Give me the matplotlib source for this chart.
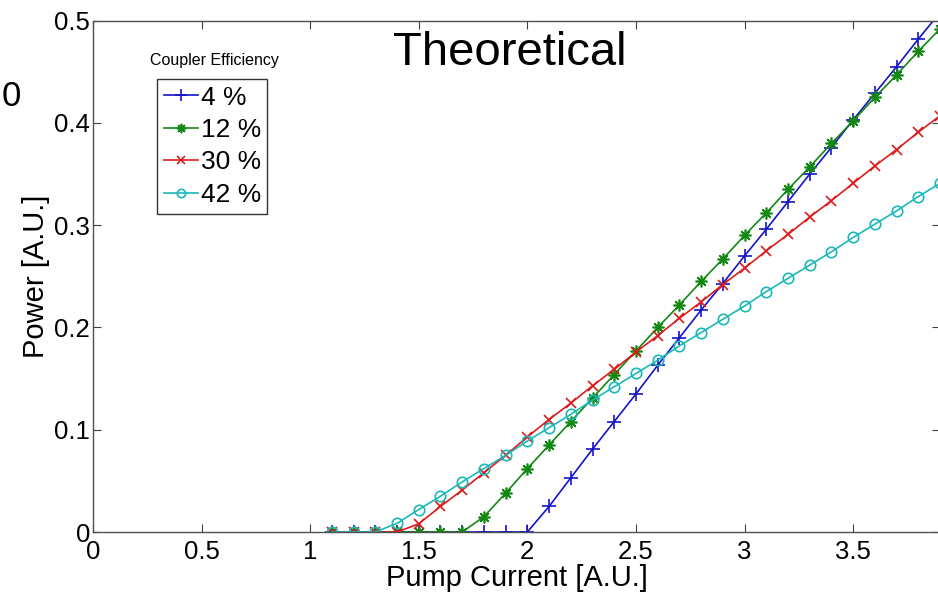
import matplotlib
matplotlib.use("Agg")
import matplotlib.pyplot as plt

plt.rcParams['font.family'] = ['Liberation Sans', 'DejaVu Sans']

# Pump current grid (A.U.)
current = [1.1, 1.2, 1.3, 1.4, 1.5, 1.6, 1.7, 1.8, 1.9, 2.0,
           2.1, 2.2, 2.3, 2.4, 2.5, 2.6, 2.7, 2.8, 2.9, 3.0,
           3.1, 3.2, 3.3, 3.4, 3.5, 3.6, 3.7, 3.8, 3.9]

# Output power (A.U.) for each coupler efficiency
power_4 = [0, 0, 0, 0, 0, 0, 0, 0, 0, 0,
           0.025, 0.053, 0.081, 0.108, 0.135, 0.163, 0.190, 0.217, 0.243, 0.270,
           0.296, 0.323, 0.350, 0.376, 0.403, 0.429, 0.455, 0.482, 0.508]
power_12 = [0, 0, 0, 0, 0, 0, 0,
            0.015, 0.038, 0.062, 0.085, 0.108, 0.131, 0.154, 0.177, 0.200, 0.222,
            0.245, 0.267, 0.290, 0.312, 0.335, 0.357, 0.380, 0.402, 0.425, 0.447,
            0.470, 0.492]
power_30 = [0, 0, 0, 0,
            0.008, 0.025, 0.041, 0.058, 0.075, 0.093, 0.110, 0.126, 0.143, 0.159,
            0.176, 0.192, 0.209, 0.225, 0.242, 0.258, 0.275, 0.291, 0.308, 0.324,
            0.341, 0.358, 0.374, 0.391, 0.407]
power_42 = [0, 0, 0,
            0.0085, 0.022, 0.035, 0.049, 0.062, 0.075, 0.089, 0.102, 0.115, 0.129,
            0.142, 0.155, 0.168, 0.182, 0.195, 0.208, 0.221, 0.235, 0.248, 0.261,
            0.274, 0.288, 0.301, 0.314, 0.328, 0.341]

labels = ['4 %', '12 %', '30 %', '42 %']
colors = ['#1414c8', '#128812', '#dc1c1c', '#1cb8b8']
# plus, 8-armed asterisk, cross, circle
markers = ['+', (8, 2, 0), 'x', 'o']

xticks = [0, 0.5, 1, 1.5, 2, 2.5, 3, 3.5]
xticklabels = ['0', '0.5', '1', '1.5', '2', '2.5', '3', '3.5']
yticks = [0, 0.1, 0.2, 0.3, 0.4, 0.5]
yticklabels = ['0', '0.1', '0.2', '0.3', '0.4', '0.5']

W, H = 938, 598
fig = plt.figure(figsize=(W / 100, H / 100), dpi=100)
left, right, bottom, top = 93, 940, 532, 20.7
ax = fig.add_axes([left / W, (H - bottom) / H, (right - left) / W, (bottom - top) / H])

series = [power_4, power_12, power_30, power_42]
msizes = [10, 8.5, 7, 7.5]
for y, lab, c, m, ms in zip(series, labels, colors, markers, msizes):
    ax.plot(current, y, color=c, marker=m, markersize=ms, linewidth=1.2,
            markeredgewidth=1.2, markerfacecolor='none', label=lab, clip_on=True)

ax.set_xlim(0, 3.9)
ax.set_ylim(0, 0.5)
ax.set_xticks(xticks)
ax.set_xticklabels(xticklabels)
ax.set_yticks(yticks)
ax.set_yticklabels(yticklabels)
ax.tick_params(direction='in', length=6, width=0.8, color='#404040',
               labelsize=18.5, top=True, right=True)
ax.tick_params(axis='x', pad=6)
ax.tick_params(axis='y', pad=2)
for s in ax.spines.values():
    s.set_color('#505050')
    s.set_linewidth(1.0)

ax.set_xlabel('Pump Current [A.U.]', fontsize=21, labelpad=0)
ax.set_ylabel('Power [A.U.]', fontsize=21, labelpad=3)

ax.text(0.492, 0.937, 'Theoretical', transform=ax.transAxes, fontsize=34,
        ha='center', va='center')

leg = fig.legend(loc='upper left', bbox_to_anchor=(157 / W, 1 - 79 / H),
                 borderaxespad=0, fontsize=19, frameon=True, fancybox=False,
                 handlelength=1.3, handletextpad=0.1, labelspacing=0.32,
                 borderpad=0.25, markerscale=0.8)
leg.get_frame().set_edgecolor('black')
leg.get_frame().set_linewidth(1.0)

fig.text(214 / W, 1 - 61 / H, 'Coupler Efficiency', fontsize=11.5,
         ha='center', va='center')

fig.text(2 / W, 1 - 97 / H, '0', fontsize=25, ha='left', va='center')

fig.savefig('out.png', dpi=100)
